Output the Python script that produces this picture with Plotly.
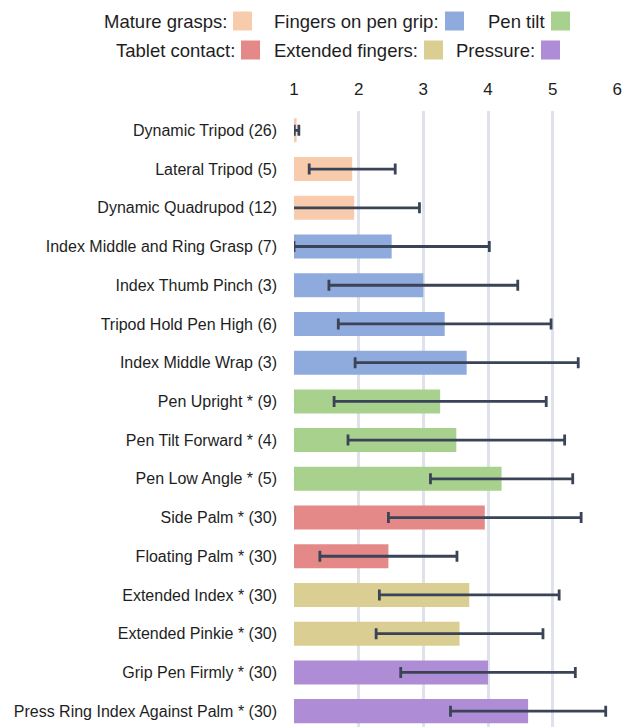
import plotly.graph_objects as go

# ---- data ---------------------------------------------------------------
categories = [
    "Dynamic Tripod (26)", "Lateral Tripod (5)", "Dynamic Quadrupod (12)",
    "Index Middle and Ring Grasp (7)", "Index Thumb Pinch (3)",
    "Tripod Hold Pen High (6)", "Index Middle Wrap (3)",
    "Pen Upright * (9)", "Pen Tilt Forward * (4)", "Pen Low Angle * (5)",
    "Side Palm * (30)", "Floating Palm * (30)",
    "Extended Index * (30)", "Extended Pinkie * (30)",
    "Grip Pen Firmly * (30)", "Press Ring Index Against Palm * (30)",
]
means = [1.04, 1.90, 1.93, 2.51, 3.00, 3.33, 3.67, 3.26, 3.51, 4.21,
         3.95, 2.46, 3.71, 3.56, 4.00, 4.62]
errors = [0.035, 0.665, 1.01, 1.51, 1.46, 1.645, 1.725, 1.64, 1.675, 1.10,
          1.49, 1.06, 1.39, 1.29, 1.35, 1.20]

group_names = ["Mature grasps:", "Fingers on pen grip:", "Pen tilt",
               "Tablet contact:", "Extended fingers:", "Pressure:"]
group_sizes = [3, 4, 3, 2, 2, 2]
group_colors = ["#F8CBAD", "#8FAADC", "#A9D18E", "#E48888", "#DACE92", "#AF8DD6"]

x_ticks = [1, 2, 3, 4, 5, 6]

# ---- figure geometry -------------------------------------------------------
W, H = 623, 727
M_L, M_R, M_T, M_B = 294, 5, 111, 0
PLOT_W = W - M_L - M_R
PLOT_H = H - M_T - M_B

FONT = "Liberation Sans, Arial, sans-serif"
TEXT = "#1e1e1e"

fig = go.Figure()

start = 0
for name, size, color in zip(group_names, group_sizes, group_colors):
    sl = slice(start, start + size)
    fig.add_trace(go.Bar(
        y=categories[sl], x=means[sl], orientation="h",
        marker=dict(color=color, line=dict(width=0)),
        width=0.62, name=name, showlegend=False,
        error_x=dict(type="data", array=errors[sl], symmetric=True,
                     color="#3A4456", thickness=2.8, width=5.5),
    ))
    start += size


# ---- custom legend: label followed by a colour square ----------------------
def px_x(px):
    return (px - M_L) / PLOT_W


def px_y(py):
    return (H - M_B - py) / PLOT_H


legend_rows = [[0, 1, 2], [3, 4, 5]]
row_centres = [21, 50]
swatch_left = [[233, 445, 551], [241, 424, 541]]
SW = 19
for r, row in enumerate(legend_rows):
    cy = row_centres[r]
    for k, gi in enumerate(row):
        x0 = swatch_left[r][k]
        fig.add_shape(type="rect", xref="paper", yref="paper",
                      x0=px_x(x0), x1=px_x(x0 + SW),
                      y0=px_y(cy + SW / 2), y1=px_y(cy - SW / 2),
                      fillcolor=group_colors[gi], line=dict(width=0))
        fig.add_annotation(xref="paper", yref="paper",
                           x=px_x(x0 - 4), y=px_y(cy),
                           xanchor="right", yanchor="middle",
                           text=group_names[gi], showarrow=False,
                           font=dict(family=FONT, size=18.5, color=TEXT))

fig.update_layout(
    width=W, height=H,
    margin=dict(l=M_L, r=M_R, t=M_T, b=M_B, autoexpand=False),
    paper_bgcolor="white", plot_bgcolor="white",
    barmode="overlay", bargap=0.38,
    font=dict(family=FONT, color=TEXT),
    xaxis=dict(side="top", range=[1, 6.01], tickvals=x_ticks,
               showgrid=True, gridcolor="#DFE2EA", gridwidth=2.5,
               zeroline=False, showline=False, ticks="",
               tickfont=dict(size=17, color=TEXT), ticklabelstandoff=12),
    yaxis=dict(categoryorder="array", categoryarray=categories,
               range=[15.41, -0.5], showgrid=False, zeroline=False,
               showline=False, ticks="", ticklabelstandoff=16,
               tickfont=dict(size=16, color=TEXT)),
)

fig.write_html("out.html")
